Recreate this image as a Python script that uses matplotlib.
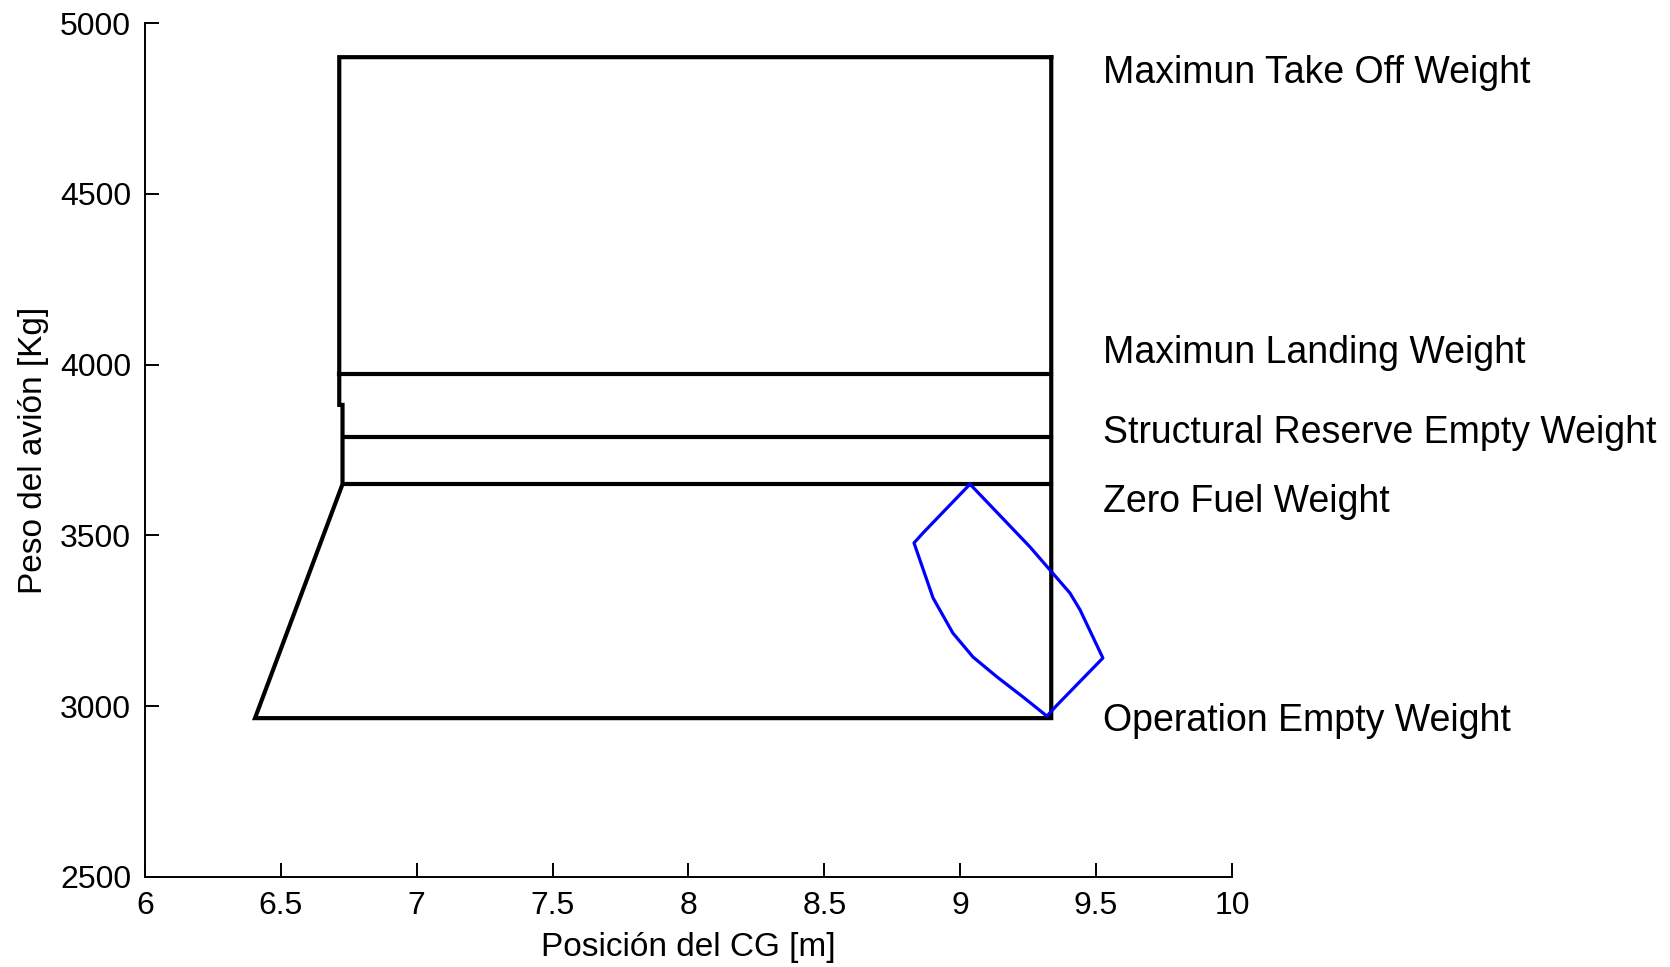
import matplotlib
matplotlib.use("Agg")
import matplotlib.pyplot as plt

plt.rcParams['font.family'] = ['Liberation Sans', 'DejaVu Sans']

# Envelope (black) outline
env_x = [9.335, 6.715, 6.715, 6.727, 6.727, 6.405, 9.335, 9.335]
env_y = [4900, 4900, 3882, 3882, 3650, 2965, 2965, 4900]

# Horizontal weight limits
lim_names = ["MLW", "SREW", "ZFW"]
lim_y = [3972, 3789, 3650]
lim_x0 = [6.715, 6.727, 6.727]
lim_x1 = [9.335, 9.335, 9.335]

# Loading polygon (blue)
poly_x = [9.036, 8.863, 8.830, 8.900, 8.973, 9.047, 9.135, 9.231, 9.319,
          9.356, 9.525, 9.441, 9.404, 9.330, 9.257, 9.036]
poly_y = [3650, 3507, 3478, 3317, 3214, 3144, 3086, 3027, 2971,
          3003, 3141, 3282, 3331, 3399, 3466, 3650]

# Labels
labels = ["Maximun Take Off Weight", "Maximun Landing Weight",
          "Structural Reserve Empty Weight", "Zero Fuel Weight",
          "Operation Empty Weight"]
label_x = 9.525
label_y = [4853, 4033, 3799, 3599, 2957]

xticks = [6, 6.5, 7, 7.5, 8, 8.5, 9, 9.5, 10]
xticklabels = ["6", "6.5", "7", "7.5", "8", "8.5", "9", "9.5", "10"]
yticks = [2500, 3000, 3500, 4000, 4500, 5000]
yticklabels = ["2500", "3000", "3500", "4000", "4500", "5000"]

fig = plt.figure(figsize=(16.7, 9.67), dpi=100)
ax = fig.add_axes([0.0868, 0.0931, 0.7377 - 0.0868, 0.9762 - 0.0931])

ax.plot(env_x, env_y, color='black', lw=3.0, solid_joinstyle='miter')
for y, a, b in zip(lim_y, lim_x0, lim_x1):
    ax.plot([a, b], [y, y], color='black', lw=3.0)
ax.plot(poly_x, poly_y, color='#0000ff', lw=2.3)

for t, y in zip(labels, label_y):
    ax.text(label_x, y, t, fontsize=27, ha='left', va='center', clip_on=False)

ax.set_xlim(6, 10)
ax.set_ylim(2500, 5000)
ax.set_xticks(xticks)
ax.set_xticklabels(xticklabels)
ax.set_yticks(yticks)
ax.set_yticklabels(yticklabels)
ax.tick_params(direction='in', length=10, width=1.4, labelsize=23, pad=10)
for s in ['top', 'right']:
    ax.spines[s].set_visible(False)
for s in ['left', 'bottom']:
    ax.spines[s].set_linewidth(1.4)
ax.set_xlabel("Posición del CG [m]", fontsize=24, labelpad=8)
ax.set_ylabel("Peso del avión [Kg]", fontsize=24, labelpad=8)

fig.savefig("out.png", dpi=100)
